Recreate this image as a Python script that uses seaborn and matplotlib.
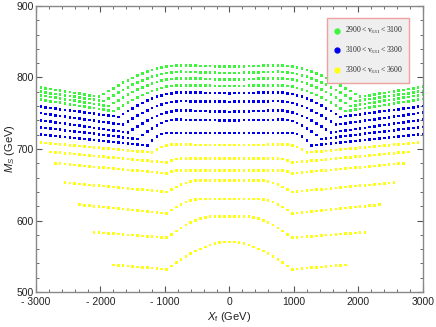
import matplotlib
matplotlib.use('Agg')
import matplotlib.pyplot as plt
from matplotlib.lines import Line2D
from matplotlib.ticker import MultipleLocator
import seaborn as sns
import numpy as np
import pandas as pd

# X_f grid of the left half (GeV); curves are symmetric about X_f = 0
xf_left = np.arange(-3000, 1, 75)

# M_S (GeV) on the left half, each list ends at X_f = 0
green_ms = [
    [787, 785.9, 784.8, 783.8, 782.7, 781.6, 780.5, 779.5, 778.4, 777.3, 776.2, 775.2, 774.1, 773, 777, 781.1, 785, 788.9, 792.6, 796.1, 799.5, 802.7, 805.5, 808.1, 810.4, 812.4, 814, 815.3, 816.3, 816.8, 817, 816.8, 816.6, 816.4, 816.2, 816, 815.8, 815.6, 815.4, 815.2, 815],
    [781, 780, 779, 778, 777, 776, 775, 774, 773, 772, 771, 770, 769, 768, 767, 771, 775, 778.9, 782.7, 786.3, 789.8, 793, 796, 798.7, 801.1, 803.2, 804.9, 806.2, 807.2, 807.8, 808, 807.8, 807.6, 807.4, 807.2, 807, 806.8, 806.6, 806.4, 806.2, 806],
    [776, 774.9, 773.9, 772.8, 771.7, 770.7, 769.6, 768.5, 767.5, 766.4, 765.3, 764.3, 763.2, 762.1, 761.1, 760, 764.1, 768.1, 772.1, 775.9, 779.5, 782.9, 786.1, 789, 791.6, 793.8, 795.6, 797.1, 798.1, 798.8, 799, 798.8, 798.6, 798.4, 798.2, 798, 797.8, 797.6, 797.4, 797.2, 797],
    [770, 768.9, 767.9, 766.8, 765.8, 764.7, 763.6, 762.6, 761.5, 760.4, 759.4, 758.3, 757.3, 756.2, 755.1, 754.1, 753, 757, 761, 764.9, 768.6, 772.2, 775.4, 778.5, 781.2, 783.5, 785.4, 787, 788.1, 788.8, 789, 788.9, 788.8, 788.7, 788.6, 788.5, 788.4, 788.3, 788.2, 788.1, 788],
]
blue_ms = [
    [760, 759.1, 758.2, 757.4, 756.5, 755.6, 754.7, 753.8, 752.9, 752.1, 751.2, 750.3, 749.4, 748.5, 747.6, 746.8, 745.9, 745, 749.1, 753.1, 757, 760.8, 764.3, 767.5, 770.5, 773, 775.1, 776.8, 778, 778.8, 779, 778.9, 778.8, 778.7, 778.6, 778.5, 778.4, 778.3, 778.2, 778.1, 778],
    [751, 750.1, 749.1, 748.2, 747.2, 746.3, 745.3, 744.4, 743.4, 742.5, 741.6, 740.6, 739.7, 738.7, 737.8, 736.8, 735.9, 734.9, 734, 738.3, 742.5, 746.6, 750.5, 754.1, 757.3, 760.2, 762.6, 764.5, 765.9, 766.7, 767, 766.9, 766.8, 766.7, 766.6, 766.5, 766.4, 766.3, 766.2, 766.1, 766],
    [741, 740.1, 739.1, 738.2, 737.2, 736.3, 735.3, 734.4, 733.4, 732.5, 731.5, 730.6, 729.6, 728.7, 727.7, 726.8, 725.8, 724.9, 723.9, 723, 727.4, 731.7, 735.9, 739.8, 743.3, 746.4, 749.1, 751.2, 752.7, 753.7, 754, 753.8, 753.6, 753.4, 753.2, 753, 752.8, 752.6, 752.4, 752.2, 752],
    [731, 730.2, 729.4, 728.6, 727.8, 727, 726.1, 725.3, 724.5, 723.7, 722.9, 722.1, 721.3, 720.5, 719.7, 718.9, 718, 717.2, 716.4, 715.6, 714.8, 714, 719.3, 724.3, 729, 733.1, 736.4, 738.9, 740.5, 741, 740.9, 740.8, 740.7, 740.6, 740.5, 740.5, 740.4, 740.3, 740.2, 740.1, 740],
    [721, 720.3, 719.6, 718.9, 718.2, 717.5, 716.8, 716.1, 715.4, 714.7, 714, 713.3, 712.7, 712, 711.3, 710.6, 709.9, 709.2, 708.5, 707.8, 707.1, 706.4, 705.7, 705, 711.7, 717.4, 721.2, 722.5, 722.5, 722.5, 722.5, 722.5, 722.5, 722.5, 722.5, 722.5, 722.5, 722.5, 722.5, 722.5, 722.5],
]
yellow_ms = [
    [709, 708.4, 707.8, 707.2, 706.6, 706, 705.3, 704.7, 704.1, 703.5, 702.9, 702.3, 701.7, 701.1, 700.5, 699.9, 699.3, 698.7, 698, 697.4, 696.8, 696.2, 695.6, 695, 699.2, 702.8, 705.2, 706, 706, 706, 705.9, 705.9, 705.8, 705.8, 705.8, 705.7, 705.7, 705.7, 705.6, 705.6],
    [696, 695.4, 694.8, 694.1, 693.5, 692.9, 692.3, 691.6, 691, 690.4, 689.8, 689.1, 688.5, 687.9, 687.3, 686.6, 686, 685.4, 684.8, 684.1, 683.5, 682.9, 682.3, 681.6, 681, 684, 686.2, 687, 687, 687, 687, 687, 687, 687, 687, 687, 687, 687],
    [680, 679.4, 678.8, 678.2, 677.6, 677, 676.3, 675.7, 675.1, 674.5, 673.9, 673.3, 672.7, 672.1, 671.5, 670.9, 670.3, 669.7, 669, 668.4, 667.8, 667.2, 666.6, 666, 668.8, 670, 670, 670, 670, 670, 670, 670, 670, 670, 670, 670, 670],
    [653, 652.4, 651.8, 651.1, 650.5, 649.9, 649.3, 648.7, 648, 647.4, 646.8, 646.2, 645.6, 645, 644.3, 643.7, 643.1, 642.5, 641.9, 641.2, 640.6, 640, 643.6, 646.9, 650, 652.5, 654.4, 655.6, 656, 656, 656, 656, 656, 656, 656],
    [622, 621.3, 620.7, 620, 619.3, 618.7, 618, 617.3, 616.7, 616, 615.3, 614.7, 614, 613.3, 612.7, 612, 611.3, 610.7, 610, 614.5, 618.7, 622.5, 625.6, 628, 629.5, 630, 630, 630, 630, 630, 630, 630],
    [583.5, 583, 582.5, 582, 581.5, 581, 580.5, 580, 579.5, 579, 578.5, 578, 577.5, 577, 576.5, 576, 580.7, 585.3, 589.6, 593.6, 597.2, 600.3, 602.7, 604.5, 605.6, 606, 606, 606, 606],
    [538, 537.4, 536.9, 536.3, 535.7, 535.1, 534.6, 534, 533.4, 532.8, 532.3, 531.7, 536.3, 540.9, 545.3, 549.5, 553.5, 557.1, 560.4, 563.2, 565.6, 567.5, 568.9, 569.7, 570],
]

band_labels = [r'$2900 < \mathrm{v}_{331} < 3100$',
               r'$3100 < \mathrm{v}_{331} < 3300$',
               r'$3300 < \mathrm{v}_{331} < 3600$']
band_colors = ['#3cf53c', '#0000f0', '#ffff14']
xtick_vals = [-3000, -2000, -1000, 0, 1000, 2000, 3000]
xtick_text = ['- 3000', '- 2000', '- 1000', '0', '1000', '2000', '3000']
ytick_vals = [500, 600, 700, 800, 900]

rows = []
for band, curves in zip(band_labels, [green_ms, blue_ms, yellow_ms]):
    for ci, half in enumerate(curves):
        xs = xf_left[-len(half):]
        x_full = np.concatenate([xs, -xs[-2::-1]])
        y_full = np.concatenate([half, half[-2::-1]])
        for x, y in zip(x_full, y_full):
            rows.append((x, y, band, ci))
df = pd.DataFrame(rows, columns=['Xf', 'MS', 'band', 'curve'])

sns.set_style('ticks')
plt.rcParams['font.family'] = ['Liberation Sans', 'DejaVu Sans']
plt.rcParams['mathtext.fontset'] = 'custom'
plt.rcParams['mathtext.rm'] = 'Liberation Serif'
plt.rcParams['mathtext.it'] = 'Liberation Sans:italic'
plt.rcParams['mathtext.sf'] = 'Liberation Sans'

fig = plt.figure(figsize=(4.36, 3.27), dpi=100)
ax = fig.add_axes([0.0826, 0.107, 0.8874, 0.8747])

sns.scatterplot(data=df, x='Xf', y='MS', hue='band', hue_order=band_labels,
                palette=band_colors, s=3.5, linewidth=0, marker='s',
                legend=False, ax=ax)

ax.set_xlim(-3000, 3000)
ax.set_ylim(500, 900)
ax.set_xticks(xtick_vals)
ax.set_xticklabels(xtick_text)
ax.set_yticks(ytick_vals)
ax.xaxis.set_minor_locator(MultipleLocator(200))
ax.yaxis.set_minor_locator(MultipleLocator(20))
ax.tick_params(which='both', direction='in', top=True, right=True,
               labelsize=7.5, colors='#555555', labelcolor='#222222')
ax.tick_params(which='major', length=4, width=0.8)
ax.tick_params(which='minor', length=2, width=0.6)
ax.tick_params(axis='x', pad=3.5)
ax.tick_params(axis='y', pad=1.5)
for sp in ax.spines.values():
    sp.set_color('#888888')
    sp.set_linewidth(1.0)

ax.set_xlabel(r'$\mathit{X}_{\mathsf{f}}$ (GeV)', fontsize=8, labelpad=2, color='#222222')
ax.set_ylabel(r'$\mathit{M}_{\mathit{S}}$ (GeV)', fontsize=8, labelpad=0, color='#222222')

handles = [Line2D([], [], linestyle='none', marker='o', markersize=3.5,
                  markerfacecolor=c, markeredgecolor=c) for c in band_colors]
leg = ax.legend(handles, band_labels, loc='upper right', bbox_to_anchor=(0.975, 0.97),
                fontsize=5.5, frameon=True, fancybox=False, handlelength=0.8,
                handletextpad=0.6, labelspacing=1.1, borderpad=0.9)
leg.get_frame().set_facecolor('#efefef')
leg.get_frame().set_edgecolor('#f0a0a0')
leg.get_frame().set_linewidth(1.0)
leg.get_frame().set_alpha(1)

fig.savefig('out.png', dpi=100)
